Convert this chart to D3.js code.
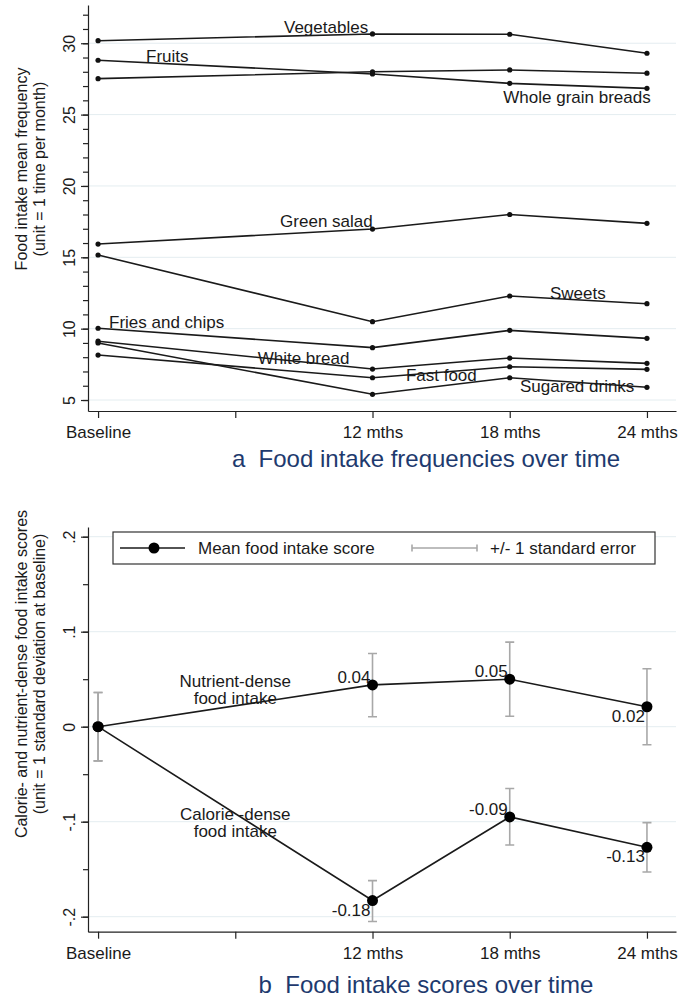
<!DOCTYPE html>
<html>
<head>
<meta charset="utf-8">
<script src="https://cdn.jsdelivr.net/npm/d3@7"></script>
<style>
    body { margin: 0; background: #fff; }
    svg text { font-family: "Liberation Sans", Arial, sans-serif; fill: #1a1a1a; }
    .grid line { stroke: #e4edf0; stroke-width: 1; }
    .axis path, .axis line { stroke: #222; stroke-width: 1.2; }
    .title { fill: #1e3a6e !important; font-size: 24px; white-space: pre; }
</style>
</head>
<body>
<div id="chart"></div>
<script>
// time points (months since baseline)
const months = [0, 12, 18, 24];
const tickMonths = [0, 6, 12, 18, 24];
const tickLabels = ["Baseline", "", "12 mths", "18 mths", "24 mths"];

// panel a: mean frequency, times per month
const foodNames = ["Vegetables", "Fruits", "Whole grain breads", "Green salad", "Sweets",
                   "Fries and chips", "White bread", "Fast food", "Sugared drinks"];
const vegetables    = [30.18, 30.65, 30.63, 29.30];
const fruits        = [28.81, 27.85, 27.19, 26.84];
const wholeGrain    = [27.52, 28.00, 28.13, 27.90];
const greenSalad    = [15.93, 16.98, 18.00, 17.38];
const sweets        = [15.16, 10.49, 12.29, 11.75];
const friesChips    = [10.03, 8.67, 9.88, 9.32];
const whiteBread    = [9.12, 7.17, 7.94, 7.57];
const fastFood      = [8.15, 6.56, 7.33, 7.15];
const sugaredDrinks = [9.00, 5.40, 6.56, 5.89];
const freqTicks = [5, 10, 15, 20, 25, 30];

// panel b: standardised scores
const nutrientMean = [0, 0.044, 0.050, 0.021];
const nutrientLo   = [-0.036, 0.0105, 0.011, -0.019];
const nutrientHi   = [0.036, 0.077, 0.089, 0.061];
const nutrientText = ["", "0.04", "0.05", "0.02"];
const calorieMean  = [0, -0.183, -0.095, -0.127];
const calorieLo    = [-0.036, -0.205, -0.1245, -0.153];
const calorieHi    = [0.036, -0.162, -0.065, -0.101];
const calorieText  = ["", "-0.18", "-0.09", "-0.13"];
const scoreTicks = [-0.2, -0.1, 0, 0.1, 0.2];
const scoreTickLabels = ["-.2", "-.1", "0", ".1", ".2"];

var svg = d3.select("#chart").append("svg")
    .attr("width", 678)
    .attr("height", 1000);

var x = d3.scaleLinear().domain([-0.44, 25.27]).range([88, 676]);

function xAxis(g, y0){
    g.attr("class", "axis")
        .attr("transform", "translate(0," + y0 + ")")
        .call(d3.axisBottom(x).tickValues(tickMonths)
            .tickFormat(function(d, i){ return tickLabels[i]; })
            .tickSize(7).tickSizeOuter(0).tickPadding(8));
    g.selectAll("text").style("font-size", "17px").attr("fill", "#1a1a1a");
}

function yAxis(g, y, majors, labels, minors){
    g.append("g").attr("class", "grid")
        .selectAll("line").data(majors).enter().append("line")
        .attr("x1", 88).attr("x2", 676)
        .attr("y1", function(d){ return y(d); })
        .attr("y2", function(d){ return y(d); });

    g.append("g").attr("class", "axis")
        .attr("transform", "translate(88,0)")
        .call(d3.axisLeft(y).tickValues(minors).tickFormat("").tickSize(5).tickSizeOuter(0));

    var ax = g.append("g").attr("class", "axis")
        .attr("transform", "translate(88,0)")
        .call(d3.axisLeft(y).tickValues(majors)
            .tickFormat(function(d, i){ return labels[i]; })
            .tickSize(7).tickSizeOuter(0));
    ax.select(".domain").remove();
    ax.selectAll("text")
        .attr("x", 0).attr("dy", 0)
        .attr("transform", "translate(-13,0) rotate(-90)")
        .style("text-anchor", "middle")
        .style("font-size", "16px")
        .attr("fill", "#1a1a1a");
}

function yTitle(lines, cy){
    var t = svg.append("text")
        .attr("transform", "translate(27," + cy + ") rotate(-90)")
        .style("text-anchor", "middle")
        .style("font-size", "16px");
    lines.forEach(function(s, i){
        t.append("tspan").attr("x", 0).attr("y", i * 17.5).text(s);
    });
}

// ---------- panel a ----------
var yA = d3.scaleLinear().domain([4.23, 32.68]).range([411, 5]);
var minorA = d3.range(5, 33, 1);
var gA = svg.append("g");
yAxis(gA, yA, freqTicks, freqTicks.map(String), minorA);
gA.append("g").call(xAxis, 411);

var foods = [vegetables, fruits, wholeGrain, greenSalad, sweets,
             friesChips, whiteBread, fastFood, sugaredDrinks];

var lineA = d3.line()
    .x(function(d, i){ return x(months[i]); })
    .y(function(d){ return yA(d); });

foods.forEach(function(vals){
    gA.append("path")
        .attr("d", lineA(vals))
        .attr("fill", "none")
        .attr("stroke", "#1a1a1a")
        .attr("stroke-width", 1.6);
    gA.selectAll(null).data(vals).enter().append("circle")
        .attr("cx", function(d, i){ return x(months[i]); })
        .attr("cy", function(d){ return yA(d); })
        .attr("r", 2.6)
        .attr("fill", "#111");
});

// label anchors in data units (month, frequency)
var foodLabelAt = [[8.13, 30.70], [2.10, 28.71], [17.72, 25.83], [7.96, 17.10], [19.76, 12.08],
                   [0.48, 10.03], [6.98, 7.50], [13.46, 6.33], [18.45, 5.54]];
foodNames.forEach(function(name, i){
    gA.append("text")
        .attr("x", x(foodLabelAt[i][0]))
        .attr("y", yA(foodLabelAt[i][1]))
        .style("font-size", "17px")
        .text(name);
});

yTitle(["Food intake mean frequency", "(unit = 1 time per month)"], 169);
svg.append("text").attr("class", "title")
    .attr("x", 426).attr("y", 467)
    .style("text-anchor", "middle")
    .text("a  Food intake frequencies over time");

// ---------- panel b ----------
var yB = d3.scaleLinear().domain([-0.2158, 0.2102]).range([931.7, 527]);
var minorB = d3.range(-0.2, 0.2001, 0.05);
var gB = svg.append("g");
yAxis(gB, yB, scoreTicks, scoreTickLabels, minorB);
gB.append("g").call(xAxis, 931.7);

// legend
var lg = gB.append("g");
lg.append("rect")
    .attr("x", 113).attr("y", 532).attr("width", 542).attr("height", 32)
    .attr("fill", "#fff").attr("stroke", "#333").attr("stroke-width", 1.2);
lg.append("line").attr("x1", 120).attr("x2", 185).attr("y1", 548).attr("y2", 548)
    .attr("stroke", "#1a1a1a").attr("stroke-width", 1.6);
lg.append("circle").attr("cx", 154).attr("cy", 548).attr("r", 5.5).attr("fill", "#000");
lg.append("text").attr("x", 198).attr("y", 554).style("font-size", "17px").text("Mean food intake score");
lg.append("path").attr("d", "M412,544.5V551.5M412,548H477M477,544.5V551.5")
    .attr("fill", "none").attr("stroke", "#a8a8a8").attr("stroke-width", 1.6);
lg.append("text").attr("x", 490).attr("y", 554).style("font-size", "17px").text("+/- 1 standard error");

var lineB = d3.line()
    .x(function(d, i){ return x(months[i]); })
    .y(function(d){ return yB(d); });

// which value labels sit above their point
var aboveB = [[true, true, true, false], [false, false, true, false]];

[[nutrientMean, nutrientLo, nutrientHi, nutrientText],
 [calorieMean, calorieLo, calorieHi, calorieText]].forEach(function(s, k){
    var mean = s[0], lo = s[1], hi = s[2], txt = s[3];
    gB.selectAll(null).data(mean).enter().append("path")
        .attr("d", function(d, i){
            var cx = x(months[i]), a = yB(hi[i]), b = yB(lo[i]);
            return "M" + (cx - 4.5) + "," + a + "H" + (cx + 4.5) +
                   "M" + cx + "," + a + "V" + b +
                   "M" + (cx - 4.5) + "," + b + "H" + (cx + 4.5);
        })
        .attr("fill", "none").attr("stroke", "#a8a8a8").attr("stroke-width", 1.6);
    gB.append("path")
        .attr("d", lineB(mean))
        .attr("fill", "none").attr("stroke", "#1a1a1a").attr("stroke-width", 1.6);
    gB.selectAll(null).data(mean).enter().append("circle")
        .attr("cx", function(d, i){ return x(months[i]); })
        .attr("cy", function(d){ return yB(d); })
        .attr("r", 5.5).attr("fill", "#000");
    gB.selectAll(null).data(mean).enter().append("text")
        .attr("x", function(d, i){ return x(months[i]) - 2; })
        .attr("y", function(d, i){ return yB(d) + (aboveB[k][i] ? -2 : 15); })
        .style("text-anchor", "end")
        .style("font-size", "17px")
        .text(function(d, i){ return txt[i]; });
});

// series names, centred at (month, score)
[[["Nutrient-dense", "food intake"], 6, 0.042],
 [["Calorie -dense", "food intake"], 6, -0.098]].forEach(function(l){
    var t = gB.append("text")
        .attr("transform", "translate(" + x(l[1]) + "," + yB(l[2]) + ")")
        .style("text-anchor", "middle").style("font-size", "17px");
    l[0].forEach(function(s, i){
        t.append("tspan").attr("x", 0).attr("y", i * 17).text(s);
    });
});

yTitle(["Calorie- and nutrient-dense food intake scores", "(unit = 1 standard deviation at baseline)"], 674);
svg.append("text").attr("class", "title")
    .attr("x", 426).attr("y", 993)
    .style("text-anchor", "middle")
    .text("b  Food intake scores over time");
</script>
</body>
</html>
